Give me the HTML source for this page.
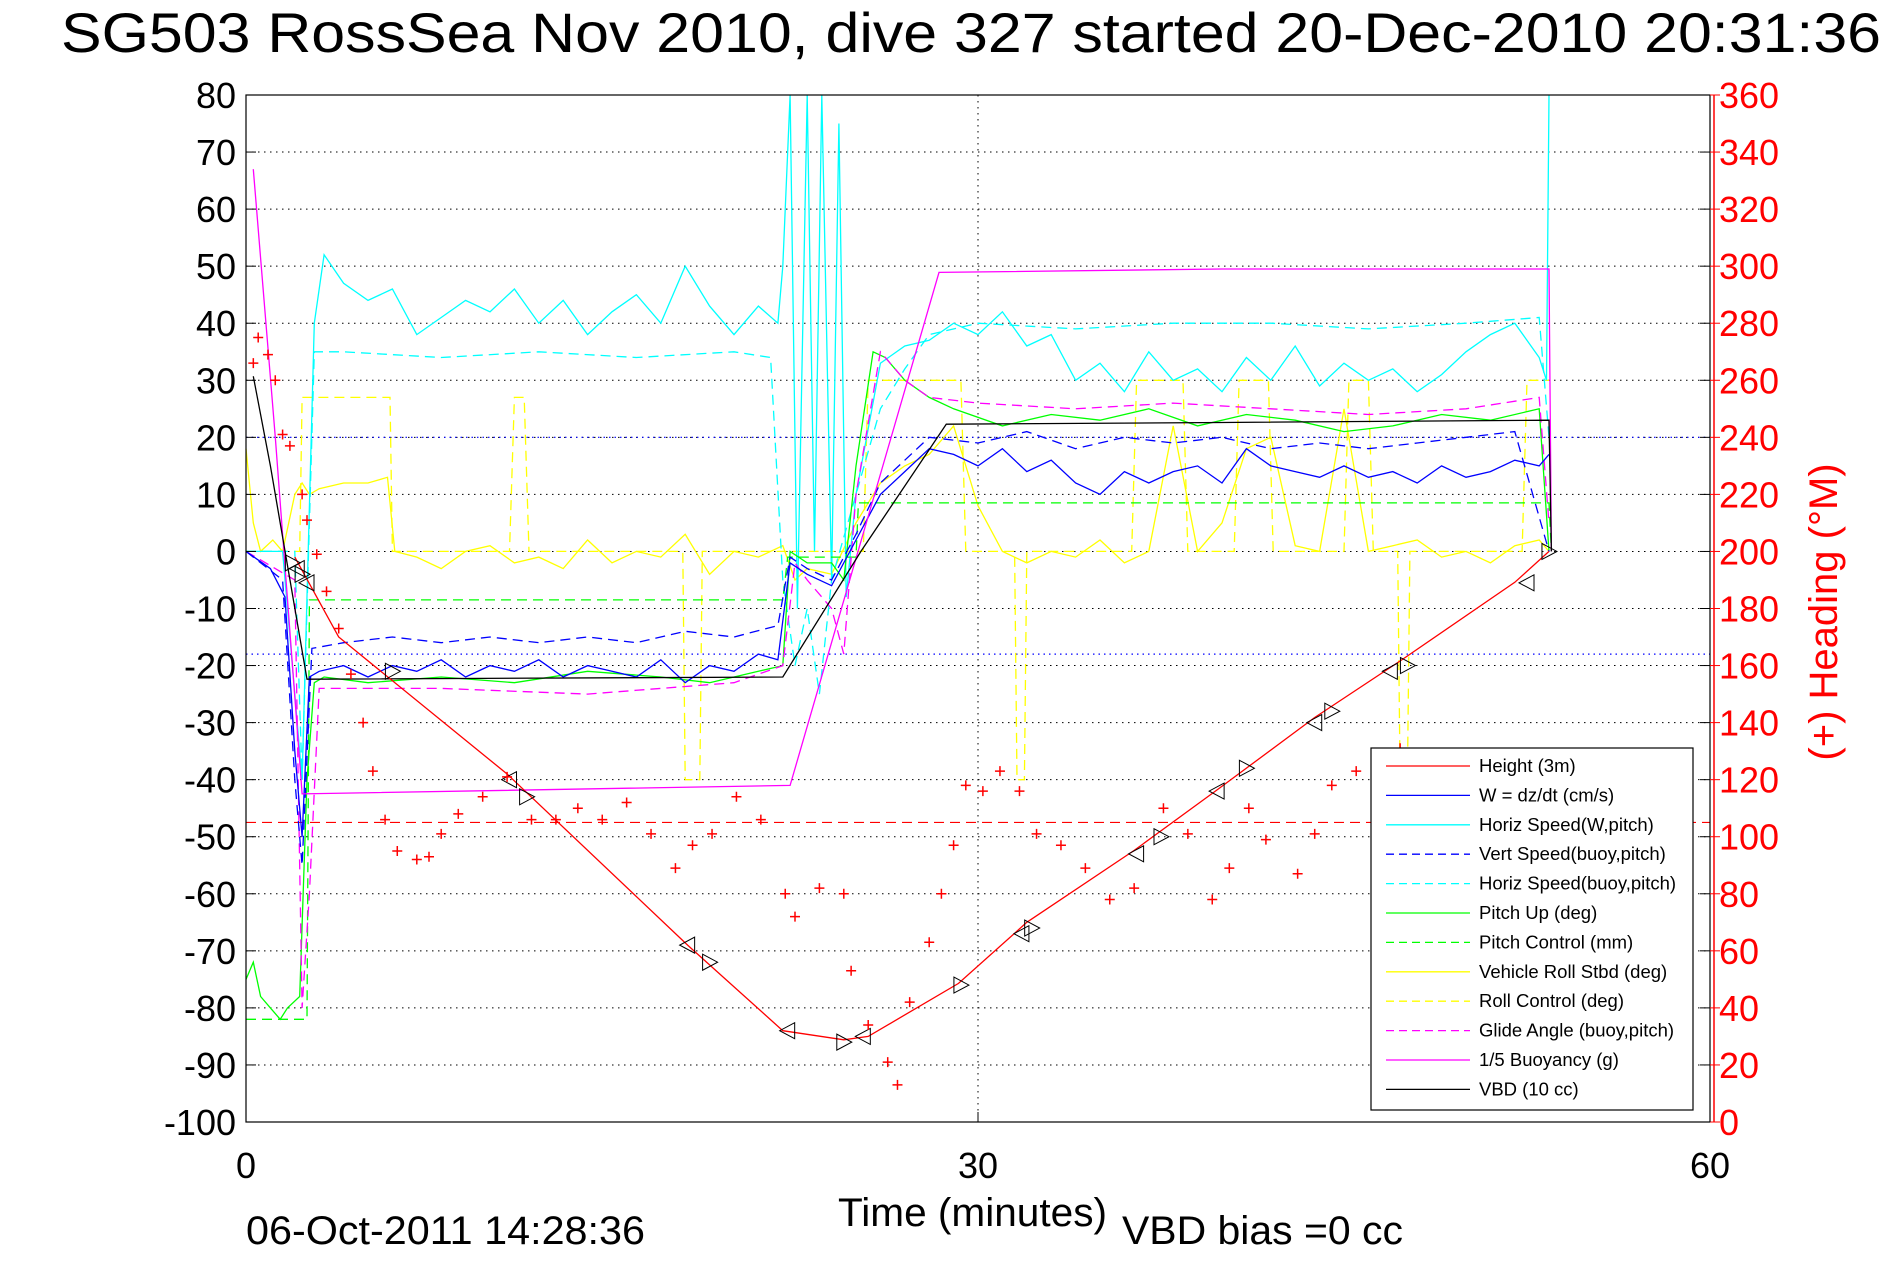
<!DOCTYPE html>
<html><head><meta charset="utf-8"><style>
html,body{margin:0;padding:0;background:#fff;}
svg{display:block;font-family:"Liberation Sans",Arial,sans-serif;}
</style></head><body>
<svg id="chart" width="1891" height="1262" viewBox="0 0 1891 1262" xmlns="http://www.w3.org/2000/svg">
<rect width="1891" height="1262" fill="#fff"/>
<text x="971" y="52" font-size="56" text-anchor="middle" textLength="1820" lengthAdjust="spacingAndGlyphs">SG503 RossSea Nov 2010, dive 327 started 20-Dec-2010 20:31:36</text>
<g id="grid"></g>
<g id="series"></g>
<rect x="246" y="95" width="1464" height="1027" fill="none" stroke="#000" stroke-width="1.2"/>
<g id="axes"></g>
<text x="838" y="1226" font-size="40" textLength="269" lengthAdjust="spacingAndGlyphs">Time (minutes)</text>
<text x="1122" y="1244" font-size="40" textLength="281" lengthAdjust="spacingAndGlyphs">VBD bias =0 cc</text>
<text x="246" y="1244" font-size="40" textLength="399" lengthAdjust="spacingAndGlyphs">06-Oct-2011 14:28:36</text>
<text x="0" y="0" font-size="40" fill="#f00" text-anchor="middle" transform="translate(1837,612) rotate(-90)">(+) Heading (°M)</text>
<g id="legend"></g>
</svg>
<script>
// ---------- data ----------
const xTicks=[0,30,60];
const yTicks=[80,70,60,50,40,30,20,10,0,-10,-20,-30,-40,-50,-60,-70,-80,-90,-100];
const rTicks=[360,340,320,300,280,260,240,220,200,180,160,140,120,100,80,60,40,20,0];

const heightT=[2,3.8,10.7,18.1,22,24.5,25.5,29.2,32,36.4,39.8,43.8,47.3,52,53.4];
const heightV=[-1,-15,-39,-69,-84,-85.6,-85,-75.7,-65,-52.4,-41.8,-29.1,-19.2,-5.4,0];

const markT=[1.9,2.1,2.3,2.5,6,10.8,11.5,18.1,19,22.2,24.5,25.3,29.3,31.8,32.2,36.5,37.5,39.8,41,43.8,44.5,46.9,47.6,52.5,53.4];
const markV=[-2,-3,-4,-5.5,-21,-40,-43,-69,-72,-84,-86,-85,-76,-67,-66,-53,-50,-42,-38,-30,-28,-21,-20,-5.5,0];

const vbdT=[0.3,1,2.5,22,25.2,28.7,40,53.4,53.5];
const vbdV=[30.7,15,-22.4,-22,0,22.3,22.6,23,0];

const buoyT=[0.3,1.2,2.3,22.3,28.4,40,53.4,53.5];
const buoyV=[67,20,-42.5,-41,48.9,49.5,49.5,0];

const wT=[0,1,1.6,2,2.3,2.6,3,4,5,6,7,8,9,10,11,12,13,14,15,16,17,18,19,20,21,21.8,22.3,23,24,25,26,27,28,29,30,31,32,33,34,35,36,37,38,39,40,41,42,43,44,45,46,47,48,49,50,51,52,53,53.4];
const wV=[0,-3,-8,-35,-50,-22,-21,-20,-22,-20,-21,-19,-22,-20,-21,-19,-22,-20,-21,-22,-19,-23,-20,-21,-18,-19,-2,-4,-6,2,10,14,18,17,15,18,14,16,12,10,14,12,14,15,12,18,15,14,13,15,13,14,12,15,13,14,16,15,17,2];

const vsT=[0,1.5,2,2.3,2.7,4,6,8,10,12,14,16,18,20,21.8,22.3,23,24,25,26,27,28,30,32,34,36,38,40,42,44,46,48,50,52,53.4];
const vsV=[0,-5,-40,-55,-17,-16,-15,-16,-15,-16,-15,-16,-14,-15,-13,-1,-3,-5,3,12,16,20,19,21,18,20,19,20,18,19,18,19,20,21,0];

const hsT=[0,1.5,2.3,2.8,3.2,4,5,6,7,8,9,10,11,12,13,14,15,16,17,18,19,20,21,21.8,22,22.3,22.6,23,23.3,23.6,24,24.3,24.6,25,26,27,28,29,30,31,32,33,34,35,36,37,38,39,40,41,42,43,44,45,46,47,48,49,50,51,52,53,53.3,53.4];
const hsV=[0,0,-40,40,52,47,44,46,38,41,44,42,46,40,44,38,42,45,40,50,43,38,43,40,50,80,-10,80,0,80,-5,75,-8,10,33,36,37,40,38,42,36,38,30,33,28,35,30,32,28,34,30,36,29,33,30,32,28,31,35,38,40,34,30,80];

const hbT=[0,2,2.3,2.8,4,8,12,16,20,21.5,22,22.5,23,23.5,24,25,26,27,28,30,34,38,42,46,50,53,53.4];
const hbV=[0,0,-40,35,35,34,35,34,35,34,-5,-20,-10,-25,-5,10,25,32,38,40,39,40,40,39,40,41,20];

const pitchT=[0,0.3,0.6,1,1.4,1.7,2.2,2.5,2.8,3.2,5,8,11,14,17,19,21,22,22.3,23,24,24.5,25,25.7,26.2,27,28,29,31,33,35,37,39,41,43,45,47,49,51,53,53.4];
const pitchV=[-75,-72,-78,-80,-82,-80,-78,-40,-23,-22,-23,-22,-23,-21,-22,-23,-21,-20,0,-2,-2,-5,15,35,34,30,27,25,22,24,23,25,22,24,23,21,22,24,23,25,0];

const pcT=[0,1.7,1.8,2.5,2.6,22,22.2,25,25.1,53.4,53.5];
const pcV=[-82,-82,-82,-82,-8.5,-8.5,-1,-1,8.5,8.5,0];

const glideT=[0,2,2.3,2.6,3,8,14,20,22,22.5,23,24,24.5,25,26,27,28,30,34,38,42,46,50,53,53.4];
const glideV=[0,-5,-80,-60,-24,-24,-25,-23,-20,-2,-5,-10,-18,10,35,30,27,26,25,26,25,24,25,27,5];

const rollT=[0,0.3,0.6,1.1,1.5,2,2.3,2.6,3,4,5,5.8,6.1,7,8,9,10,11,12,13,14,15,16,17,18,19,20,21,22,22.5,23,24,25,26,27,28,29,30,31,32,33,34,35,36,37,38,39,40,41,42,43,44,45,46,47,48,49,50,51,52,53,53.4];
const rollV=[18,5,0,2,0,10,12,10,11,12,12,13,0,-1,-3,0,1,-2,-1,-3,2,-2,0,-1,3,-4,0,-1,1,-5,-3,-4,5,12,15,17,22,8,0,-2,0,-1,2,-2,0,22,0,5,18,20,1,0,25,0,1,2,-1,0,-2,1,2,0];

const rcT=[0,2.2,2.3,5.9,6.0,10.8,11.0,11.4,11.6,17.9,18.0,18.6,18.7,25.3,25.5,29.3,29.5,31.5,31.6,31.9,32.0,36.3,36.5,38.4,38.6,40.5,40.7,41.9,42.1,45.0,45.2,46.0,46.2,47.2,47.3,47.6,47.7,52.3,52.5,53.4];
const rcV=[0,0,27,27,0,0,27,27,0,0,-40,-40,0,0,30,30,0,0,-40,-40,0,0,30,30,0,0,30,30,0,0,30,30,0,0,-40,-40,0,0,30,30];

const headT=[0.3,0.5,0.9,1.2,1.5,1.8,2.3,2.5,2.9,3.3,3.8,4.3,4.8,5.2,5.7,6.2,7,7.5,8,8.7,9.7,10.7,11.7,12.7,13.6,14.6,15.6,16.6,17.6,18.3,19.1,20.1,21.1,22.1,22.5,23.5,24.5,24.8,25.5,26.3,26.7,27.2,28,28.5,29,29.5,30.2,30.9,31.7,32.4,33.4,34.4,35.4,36.4,37.6,38.6,39.6,40.3,41.1,41.8,43.1,43.8,44.5,45.5,46.3,47.3];
const headV=[266,275,269,260,241,237,220,211,199,186,173,157,140,123,106,95,92,93,101,108,114,121,106,106,110,106,112,101,89,97,101,114,106,80,72,82,80,53,34,21,13,42,63,80,97,118,116,123,116,101,97,89,78,82,110,101,78,89,110,99,87,101,118,123,127,131];

const refRed=-47.5, refBlue1=20, refBlue2=-18;

// ---------- scales ----------
const X0=246,X1=1710,Y0=95,Y1=1122;
const sx=t=>X0+(t/60)*(X1-X0);
const sy=v=>Y1-((v+100)/180)*(Y1-Y0);
const sr=h=>Y1-(h/360)*(Y1-Y0);
const NS="http://www.w3.org/2000/svg";
function mk(tag,attrs,parent){const e=document.createElementNS(NS,tag);for(const k in attrs)e.setAttribute(k,attrs[k]);parent.appendChild(e);return e;}

const grid=document.getElementById('grid');
yTicks.forEach(v=>{if(v===80||v===-100)return;
  const l=mk('line',{x1:X0,x2:X1,y1:sy(v),y2:sy(v),stroke:'#000','stroke-width':1,'stroke-dasharray':'1.5 4.5'},grid);
  
  });
xTicks.forEach(t=>{if(t===0||t===60)return;
  const l=mk('line',{x1:sx(t),x2:sx(t),y1:Y0,y2:Y1,stroke:'#000','stroke-width':1,'stroke-dasharray':'1.5 4.5'},grid);
  
  });

const ser=document.getElementById('series');
function line(ts,vs,color,dash,name,scale){
  const f=scale||sy;
  const p=mk('polyline',{points:ts.map((t,i)=>sx(t).toFixed(1)+','+f(vs[i]).toFixed(1)).join(' '),fill:'none',stroke:color,'stroke-width':1.3},ser);
  if(dash)p.setAttribute('stroke-dasharray',dash);
  
  
}
function hline(v,color,dash,name){
  const l=mk('line',{x1:X0,x2:X1,y1:sy(v),y2:sy(v),stroke:color,'stroke-width':1.2,'stroke-dasharray':dash},ser);
  
  
}
hline(refBlue1,'#00f','1.5 4','blue-ref-line-upper');
hline(refBlue2,'#00f','1.5 4','blue-ref-line-lower');
hline(refRed,'#f00','10 6','red-ref-line');
line(rcT,rcV,'#ff0','10 6','roll-control-line');
line(rollT,rollV,'#ff0',null,'vehicle-roll-line');
line(hbT,hbV,'#0ff','10 6','horiz-speed-buoy-line');
line(hsT,hsV,'#0ff',null,'horiz-speed-w-line');
line(pcT,pcV,'#0f0','10 6','pitch-control-line');
line(pitchT,pitchV,'#0f0',null,'pitch-up-line');
line(glideT,glideV,'#f0f','10 6','glide-angle-line');
line(vsT,vsV,'#00f','10 6','vert-speed-buoy-line');
line(wT,wV,'#00f',null,'w-dzdt-line');
line(buoyT,buoyV,'#f0f',null,'buoyancy-line');
line(vbdT,vbdV,'#000',null,'vbd-line');
line(heightT,heightV,'#f00',null,'height-line');
markT.forEach((t,i)=>{const x=sx(t),y=sy(markV[i]);
  const p=mk('polygon',{points:`${x-7},${y-8} ${x+8},${y} ${x-7},${y+8}`,fill:'none',stroke:'#000','stroke-width':1},ser);
  if(i%2)p.setAttribute('transform',`rotate(180 ${x} ${y})`);
  
  });
headT.forEach((t,i)=>{const x=sx(t),y=sr(headV[i]);
  const p=mk('path',{d:`M${x-5},${y}H${x+5}M${x},${y-5}V${y+5}`,stroke:'#f00','stroke-width':1.5},ser);
  
  });

const ax=document.getElementById('axes');
yTicks.forEach(v=>{const y=sy(v);
  mk('line',{x1:X0,x2:X0+10,y1:y,y2:y,stroke:'#000'},ax);
  const t=mk('text',{x:236,y:y+13,'font-size':36,'text-anchor':'end'},ax);t.textContent=v;
  
  });
rTicks.forEach(h=>{const y=sr(h);
  mk('line',{x1:X1-10,x2:X1,y1:y,y2:y,stroke:'#000'},ax);
  mk('line',{x1:X1,x2:X1+10,y1:y,y2:y,stroke:'#f00'},ax);
  const t=mk('text',{x:1719,y:y+13,'font-size':36,fill:'#f00'},ax);t.textContent=h;
  
  });
mk('line',{x1:X1+4,x2:X1+4,y1:Y0,y2:Y1,stroke:'#f00','stroke-width':1.5},ax);
xTicks.forEach(t=>{const x=sx(t);
  mk('line',{x1:x,x2:x,y1:Y1,y2:Y1-10,stroke:'#000'},ax);
  const tx=mk('text',{x:x,y:1178,'font-size':36,'text-anchor':'middle'},ax);tx.textContent=t;
  
  });

const lg=document.getElementById('legend');
mk('rect',{x:1371,y:748,width:322,height:362,fill:'#fff',stroke:'#000','stroke-width':1.2},lg);
const legendLabels=['Height (3m)','W = dz/dt (cm/s)','Horiz Speed(W,pitch)','Vert Speed(buoy,pitch)','Horiz Speed(buoy,pitch)','Pitch Up (deg)','Pitch Control (mm)','Vehicle Roll Stbd (deg)','Roll Control (deg)','Glide Angle (buoy,pitch)','1/5 Buoyancy (g)','VBD (10 cc)'];
const legendColors=['#f00','#00f','#0ff','#00f','#0ff','#0f0','#0f0','#ff0','#ff0','#f0f','#f0f','#000'];
const legendDash=[0,0,0,1,1,0,1,0,1,1,0,0];
legendLabels.forEach((s,i)=>{const y=766+i*29.4;
  const l=mk('line',{x1:1386,x2:1470,y1:y,y2:y,stroke:legendColors[i],'stroke-width':1.3},lg);
  if(legendDash[i])l.setAttribute('stroke-dasharray','8 5');
  const t=mk('text',{x:1479,y:y+6,'font-size':18.5},lg);t.textContent=s;
  
  });
</script>
</body></html>
